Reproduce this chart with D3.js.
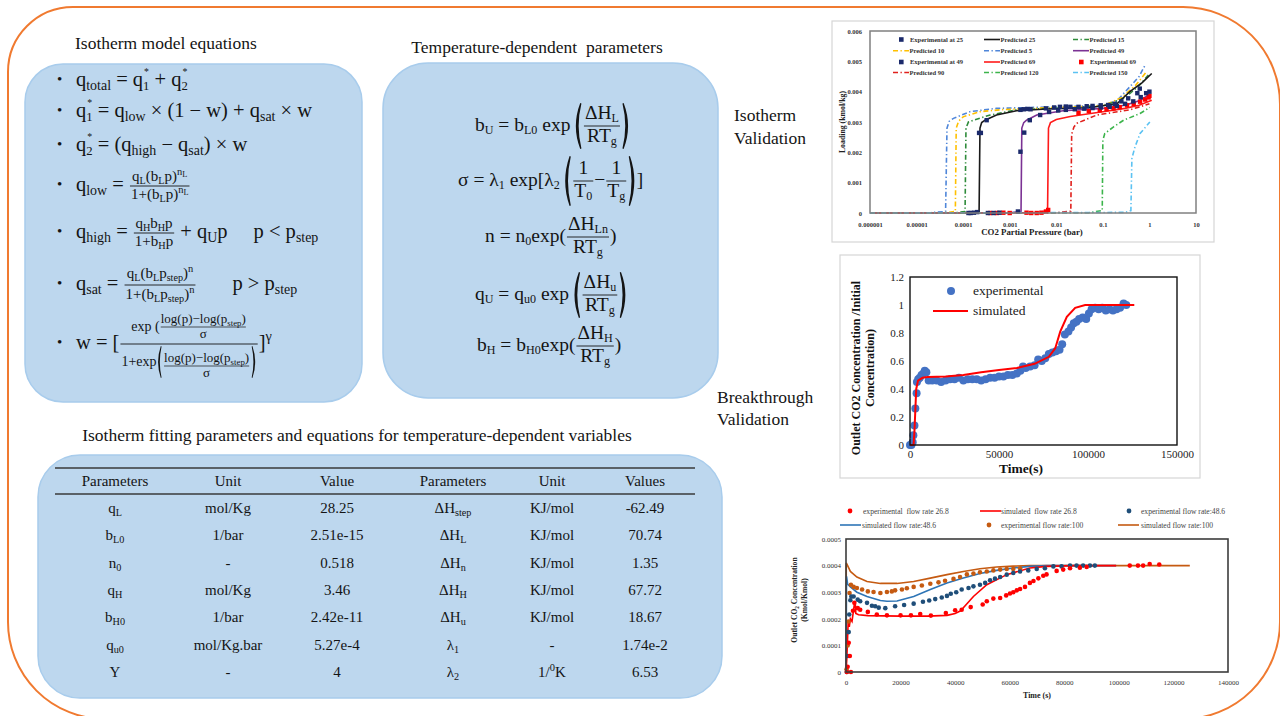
<!DOCTYPE html>
<html><head><meta charset="utf-8">
<script src="https://cdn.jsdelivr.net/npm/d3@7/dist/d3.min.js"></script>
<style>
html,body{margin:0;padding:0;background:#fff;}
svg{display:block;}
svg text{white-space:pre;font-family:'Liberation Serif','Times New Roman',Times,'DejaVu Serif',serif;}
</style></head><body>
<svg id="fig" width="1280" height="716" xmlns="http://www.w3.org/2000/svg"></svg>
<script>
// ---------------- isotherm validation data (pressure in bar, loading in kmol/kg) ----------------
const isoXTicks = [1e-6, 1e-5, 1e-4, 1e-3, 1e-2, 1e-1, 1, 10];
const isoXTickLabels = ["0.000001", "0.00001", "0.0001", "0.001", "0.01", "0.1", "1", "10"];
const isoYTicks = [0, 0.001, 0.002, 0.003, 0.004, 0.005, 0.006];
const isoYTickLabels = ["0", "0.001", "0.002", "0.003", "0.004", "0.005", "0.006"];

const pred5 = [[1e-6,0],[2e-5,0.00001],[4.2e-5,0.00005],[4.5e-5,0.0028],[5e-5,0.00302],[6.2e-5,0.00312],[1.4e-4,0.00334],[5.2e-4,0.00345],[0.01,0.0035],[0.1,0.00355],[0.2,0.0037],[0.38,0.00416],[0.6,0.0045],[0.81,0.00488]];
const pred10 = [[1e-6,0],[4e-5,0.00001],[6.8e-5,0.00005],[7.1e-5,0.0028],[8e-5,0.00303],[1e-4,0.00317],[2.3e-4,0.00334],[7.2e-4,0.00341],[0.01,0.00348],[0.1,0.00353],[0.25,0.0038],[0.5,0.0042],[0.87,0.00466]];
const pred15 = [[1e-6,0],[7e-5,0.00001],[1.1e-4,0.00005],[1.15e-4,0.0028],[1.3e-4,0.003],[1.66e-4,0.00306],[3.8e-4,0.00323],[1.4e-3,0.0034],[0.01,0.00346],[0.1,0.00352],[0.3,0.0038],[0.6,0.0042],[0.95,0.00455]];
const pred25 = [[1e-6,0],[1.5e-4,0.00001],[2.2e-4,0.00005],[2.3e-4,0.0028],[2.5e-4,0.00298],[2.95e-4,0.00306],[5.2e-4,0.00323],[1.4e-3,0.00337],[6.3e-3,0.00343],[0.05,0.00347],[0.2,0.0036],[0.38,0.004],[0.7,0.0043],[1.12,0.0046]];
const pred49 = [[1e-6,0],[1e-3,0.00001],[1.75e-3,0.00005],[1.82e-3,0.0028],[2e-3,0.00298],[2.3e-3,0.00306],[3.8e-3,0.00323],[0.014,0.00337],[0.1,0.00345],[0.3,0.00355],[0.6,0.0037],[1.0,0.0039]];
const pred69 = [[1e-6,0],[4e-3,0.00001],[6.5e-3,0.00008],[6.8e-3,0.0028],[7.5e-3,0.00298],[0.01,0.00308],[0.02,0.00318],[0.05,0.00327],[0.1,0.00334],[0.3,0.00345],[0.6,0.00355],[1.12,0.00372]];
const pred90 = [[1e-6,0],[0.01,0.00001],[0.0205,0.00006],[0.0214,0.0026],[0.024,0.00284],[0.028,0.00296],[0.04,0.00306],[0.074,0.00323],[0.38,0.0034],[1.0,0.0036]];
const pred120 = [[1e-6,0],[0.05,0.00001],[0.097,0.00008],[0.1,0.0024],[0.11,0.00262],[0.17,0.00284],[0.28,0.00306],[0.63,0.00328],[1.02,0.00348]];
const pred150 = [[1e-6,0],[0.3,0.00002],[0.4,0.00008],[0.42,0.0018],[0.49,0.00218],[0.63,0.00262],[1.02,0.003]];
const exp25 = [[1.3e-4,0],[1.45e-4,0],[1.7e-4,0.00001],[2e-4,0.00003],[2.2e-4,0.00264],[2.4e-4,0.00264],[3.2e-4,0.00306],[1.7e-3,0.0034],[2.0e-3,0.00342],[2.4e-3,0.00343],[2.8e-3,0.00342],[6e-3,0.00345],[0.009,0.00348],[0.012,0.0035],[0.016,0.00351],[0.02,0.0035],[0.03,0.0035],[0.045,0.00352],[0.06,0.00353],[0.09,0.00355],[0.13,0.00356],[0.18,0.0036],[0.25,0.00368],[0.35,0.00378],[0.55,0.00395],[0.62,0.0041]];
const exp49 = [[3.4e-4,0],[4.5e-4,0],[6e-4,0.00001],[1.5e-3,0.00005],[1.7e-3,0.00202],[2.05e-3,0.00265],[2.7e-3,0.00306],[4.5e-3,0.00323],[7e-3,0.00333],[0.011,0.00338],[0.016,0.0034],[0.025,0.00342],[0.04,0.00344],[0.06,0.00346],[0.09,0.00348],[0.14,0.0035],[0.2,0.00353],[0.3,0.0036],[0.45,0.00368],[0.65,0.00382],[0.85,0.00395],[1.0,0.004]];
const exp69 = [[3.8e-4,0],[5.3e-4,0],[7.3e-4,0.00001],[1.0e-3,0],[2.3e-3,0.00001],[2.9e-3,0],[3.8e-3,0],[4.8e-3,0.00001],[6e-3,0.00005],[6.7e-3,0.0001],[0.03,0.0033],[0.05,0.00336],[0.086,0.00339],[0.12,0.00342],[0.17,0.00345],[0.23,0.00349],[0.33,0.00355],[0.46,0.0036],[0.63,0.00367],[0.81,0.00374],[0.96,0.00381],[1.0,0.00386]];

// ---------------- breakthrough validation data ----------------
const btXTicks = [0, 50000, 100000, 150000];
const btYTicks = [0, 0.2, 0.4, 0.6, 0.8, 1, 1.2];
const btExperimental = [[0,0],[800,0],[1500,0.02],[1900,0.07],[2500,0.14],[3000,0.26],[3700,0.37],[3900,0.45],[4600,0.47],[5500,0.48],[6500,0.5],[7500,0.51],[8300,0.53],[9200,0.52],[10500,0.46],[12500,0.46],[15000,0.46],[17500,0.45],[20000,0.46],[22500,0.47],[25000,0.47],[27500,0.48],[30000,0.46],[32500,0.47],[35000,0.47],[37500,0.47],[40000,0.46],[42500,0.47],[45000,0.48],[47500,0.48],[50000,0.49],[52500,0.49],[55000,0.5],[57500,0.5],[60000,0.51],[62000,0.53],[63500,0.56],[65000,0.55],[67500,0.56],[70000,0.57],[72000,0.61],[74000,0.6],[76000,0.62],[78000,0.65],[80000,0.66],[82000,0.67],[84000,0.68],[85500,0.72],[87000,0.79],[89000,0.81],[90500,0.84],[92000,0.87],[93500,0.88],[95000,0.9],[97000,0.91],[99000,0.9],[100500,0.94],[102000,0.97],[104000,0.98],[106000,0.97],[108000,0.98],[110000,0.96],[112000,0.97],[114000,0.96],[116000,0.97],[118000,0.98],[120000,1.01],[121500,1.0]];
const btSimulated = [[0,0],[2000,0],[2500,0.1],[3000,0.25],[3500,0.4],[4500,0.46],[7000,0.48],[10000,0.485],[20000,0.49],[30000,0.5],[40000,0.52],[50000,0.535],[60000,0.55],[70000,0.58],[78000,0.63],[81600,0.69],[84400,0.81],[88100,0.915],[92800,0.98],[98400,1.0],[126000,1.0]];

// ---------------- flow-rate comparison data ----------------
const frXTicks = [0, 20000, 40000, 60000, 80000, 100000, 120000, 140000];
const frYTicks = [0, 0.0001, 0.0002, 0.0003, 0.0004, 0.0005];
const frYTickLabels = ["0", "0.0001", "0.0002", "0.0003", "0.0004", "0.0005"];
const exp268 = [[300,0],[600,0.00002],[1000,0.00011],[1400,0.00006],[1800,0],[2560,0.00023],[3050,0.00026],[4300,0.00024],[5200,0.000234],[8000,0.000226],[11300,0.000216],[15000,0.000213],[20000,0.000213],[23800,0.000213],[27200,0.000218],[31100,0.000212],[36600,0.000222],[40000,0.000232],[42400,0.000234],[45700,0.000244],[50100,0.000254],[51600,0.000266],[54000,0.000276],[56500,0.000278],[58700,0.000288],[60100,0.000295],[61300,0.0003],[62600,0.000307],[63800,0.000312],[65600,0.00032],[67400,0.000335],[68700,0.000342],[70500,0.000352],[72300,0.000362],[73500,0.000367],[77200,0.00038],[79600,0.000385],[82100,0.00039],[85700,0.000392],[88200,0.000395],[104000,0.0004],[107000,0.0004],[108900,0.0004],[111300,0.000406],[114800,0.000404]];
const sim268 = [[0,0],[300,0.00005],[800,0.00019],[1200,0.00017],[1600,0.0002],[2200,0.00019],[3000,0.00025],[3400,0.00026],[3600,0.00022],[4600,0.000215],[8000,0.000212],[20000,0.00021],[30000,0.00021],[37000,0.000213],[40000,0.00022],[42000,0.00023],[46700,0.000284],[51600,0.000328],[58900,0.000366],[67400,0.000391],[73500,0.000397],[83300,0.0004],[99000,0.0004]];
const exp486 = [[300,0],[700,0.00006],[1000,0.00015],[1200,0.000216],[1600,0.00027],[1950,0.000284],[2800,0.000284],[4300,0.000272],[5200,0.000266],[7700,0.00026],[9500,0.000249],[10700,0.000247],[12000,0.000242],[14400,0.00024],[18000,0.000247],[21300,0.000252],[24800,0.000257],[28200,0.000264],[30500,0.000269],[32700,0.000274],[35100,0.00028],[37000,0.000286],[38400,0.000294],[40400,0.0003],[42400,0.00031],[44900,0.000316],[46700,0.000322],[49100,0.000328],[51000,0.000335],[52800,0.000345],[54600,0.000351],[56500,0.000357],[58900,0.000366],[61300,0.000372],[63800,0.000378],[66800,0.000382],[69900,0.000387],[72900,0.00039],[76000,0.000397],[79000,0.000397],[82100,0.0004],[84500,0.0004],[86900,0.0004],[89400,0.0004],[91200,0.0004]];
const sim486 = [[0,0],[200,0.00036],[600,0.00033],[1600,0.00032],[4000,0.0003],[7700,0.000284],[12600,0.000269],[15000,0.000266],[18700,0.000267],[24800,0.000284],[30900,0.00031],[37000,0.000335],[43000,0.000353],[49100,0.00037],[55200,0.000382],[61300,0.000391],[67400,0.000397],[73500,0.0004],[99000,0.0004]];
const exp100 = [[200,0.00001],[600,0.0001],[900,0.00019],[1300,0.000297],[1800,0.000328],[2800,0.00032],[4000,0.000316],[5900,0.00031],[8000,0.000303],[10100,0.000301],[12600,0.000297],[15000,0.000301],[16800,0.000303],[18000,0.000307],[20500,0.00031],[22300,0.000315],[24800,0.00032],[27800,0.000325],[30900,0.000332],[33900,0.000337],[36300,0.000343],[39400,0.00035],[41800,0.000357],[44300,0.000367],[46700,0.00037],[49100,0.000375],[51600,0.000378],[54000,0.000382],[56500,0.000385],[58900,0.000387],[61300,0.000387],[63800,0.00039]];
const sim100 = [[0,0],[100,0.00041],[600,0.0004],[1600,0.000378],[4000,0.000357],[7700,0.00034],[12600,0.000333],[18700,0.000333],[24800,0.00034],[30900,0.000353],[37000,0.000366],[43000,0.000378],[49100,0.000388],[55200,0.000395],[61300,0.000398],[67400,0.0004],[126000,0.0004]];

// ---------------- fitted parameter table ----------------
const tableHeader = ["Parameters", "Unit", "Value", "Parameters", "Unit", "Values"];
const paramSymbols = ["q_L", "b_{L0}", "n_0", "q_H", "b_{H0}", "q_{u0}", "Υ"];
const paramUnits = ["mol/Kg", "1/bar", "-", "mol/Kg", "1/bar", "mol/Kg.bar", "-"];
const paramValues = ["28.25", "2.51e-15", "0.518", "3.46", "2.42e-11", "5.27e-4", "4"];
const param2Symbols = ["ΔH_{step}", "ΔH_L", "ΔH_n", "ΔH_H", "ΔH_u", "λ_1", "λ_2"];
const param2Units = ["KJ/mol", "KJ/mol", "KJ/mol", "KJ/mol", "KJ/mol", "-", "1/^0K"];
const param2Values = ["-62.49", "70.74", "1.35", "67.72", "18.67", "1.74e-2", "6.53"];

// =====================================================================
const INK = "#141414";
const svg = d3.select("#fig");

// ---- outer rounded frame ----
(function () {
  const x0 = 8, y0 = 7, x1 = 1280, y1 = 719, rTL = 65, r = 97;
  const d = `M${x0 + rTL},${y0} H${x1 - r} A${r},${r} 0 0 1 ${x1},${y0 + r} V${y1 - r} A${r},${r} 0 0 1 ${x1 - r},${y1} H${x0 + r} A${r},${r} 0 0 1 ${x0},${y1 - r} V${y0 + rTL} A${rTL},${rTL} 0 0 1 ${x0 + rTL},${y0} Z`;
  svg.append("path").attr("d", d).attr("fill", "none").attr("stroke", "#F07A30").attr("stroke-width", 2);
})();

// ---- blue panels ----
const panels = [[25, 64, 337, 338, 38], [383, 63, 335, 335, 45], [38, 455, 684, 243, 42]];
svg.selectAll("rect.panel").data(panels).join("rect").attr("class", "panel")
  .attr("x", d => d[0]).attr("y", d => d[1]).attr("width", d => d[2]).attr("height", d => d[3])
  .attr("rx", d => d[4]).attr("fill", "#BDD7EE").attr("stroke", "#A8CCEC").attr("stroke-width", 1.5);

// ---- headings ----
function label(x, y, s, size, anchor) {
  svg.append("text").attr("x", x).attr("y", y).attr("font-size", size).attr("fill", INK)
    .attr("text-anchor", anchor || "start").text(s);
}
label(75, 49, "Isotherm model equations", 17.5);
label(537, 53, "Temperature-dependent  parameters", 17.5, "middle");
label(357, 441, "Isotherm fitting parameters and equations for temperature-dependent variables", 17.5, "middle");
label(734, 121, "Isotherm", 17.5);
label(734, 144, "Validation", 17.5);
label(717, 403, "Breakthrough", 17.5);
label(717, 425, "Validation", 17.5);

// =====================================================================
// small math-layout helpers: each item draws itself and returns its width
function runs(str) {
  const out = []; let buf = ""; let i = 0;
  const push = (s, k) => { if (s) out.push({ s, k }); };
  while (i < str.length) {
    const c = str[i];
    if (c === "_" || c === "^" || c === "~") {
      push(buf, "n"); buf = "";
      let k = c === "_" ? "sub" : (c === "^" ? "sup" : "supsub");
      i++;
      if (str[i] === "!") { k = "supz"; i++; }
      let s;
      if (str[i] === "{") { const j = str.indexOf("}", i); s = str.slice(i + 1, j); i = j + 1; }
      else { s = str[i]; i++; }
      push(s, k);
    } else { buf += c; i++; }
  }
  push(buf, "n");
  return out;
}
// one <text> per run of symbols; sub/superscripts are positioned tspans
function T(str, size, o) {
  const subK = (o && o.sub) || 0.68, subDy = (o && o.subDy) || 0.2;
  return {
    draw(g, x, y) {
      let cx = x;
      const t = g.append("text").attr("fill", INK).attr("font-size", size);
      const rs = runs(str);
      for (let i = 0; i < rs.length; i++) {
        const r = rs[i];
        if (r.k === "supz") {
          // star sits above the index that follows it
          const a = t.append("tspan").attr("x", cx + 1).attr("y", y - size * 0.52).attr("font-size", size * 0.48).text(r.s);
          let w = a.node().getComputedTextLength();
          const nx = rs[i + 1];
          if (nx && nx.k === "sub") {
            const b = t.append("tspan").attr("x", cx).attr("y", y + size * 0.2).attr("font-size", size * 0.62).text(nx.s);
            w = Math.max(w, b.node().getComputedTextLength());
            i++;
          }
          cx += w;
          continue;
        }
        let fs = size, dy = 0;
        if (r.k === "sub") { fs = size * subK; dy = size * subDy; }
        else if (r.k === "sup") { fs = size * 0.7; dy = -size * 0.4; }
        else if (r.k === "supsub") { fs = size * 0.55; dy = -size * 0.25; }
        const s = t.append("tspan").attr("x", cx).attr("y", y + dy).attr("font-size", fs).text(r.s);
        cx += s.node().getComputedTextLength();
      }
      return cx - x;
    }
  };
}
function Row(items) {
  return { draw(g, x, y) { let cx = x; for (const it of items) cx += it.draw(g, cx, y); return cx - x; } };
}
function Sp(w) { return { draw() { return w; } }; }
function F(num, den, o) {
  return {
    draw(g, x, y) {
      const gn = g.append("g"), gd = g.append("g");
      const wn = num.draw(gn, 0, 0), wd = den.draw(gd, 0, 0);
      const w = Math.max(wn, wd) + 2 * o.pad;
      const ay = y - o.axis;
      gn.attr("transform", `translate(${x + (w - wn) / 2},${ay - o.gapN})`);
      gd.attr("transform", `translate(${x + (w - wd) / 2},${ay + o.gapD})`);
      g.append("line").attr("x1", x + 1).attr("x2", x + w - 1).attr("y1", ay).attr("y2", ay)
        .attr("stroke", INK).attr("stroke-width", o.lw || 0.9);
      return w;
    }
  };
}
function paren(g, x, cy, W, H, right) {
  const top = cy - H / 2, bot = cy + H / 2;
  const d = !right
    ? `M${x + W * 0.85},${top} Q${x - W * 0.25},${cy} ${x + W * 0.85},${bot} L${x + W},${bot - 0.6} Q${x + W * 0.3},${cy} ${x + W},${top + 0.6} Z`
    : `M${x + W * 0.15},${top} Q${x + W * 1.25},${cy} ${x + W * 0.15},${bot} L${x},${bot - 0.6} Q${x + W * 0.7},${cy} ${x},${top + 0.6} Z`;
  g.append("path").attr("d", d).attr("fill", INK);
}
function P(inner, h, o) {
  return {
    draw(g, x, y) {
      const cy = y - o.axis, pw = o.pw;
      paren(g, x, cy, pw, h, false);
      const w = inner.draw(g, x + pw + 1.5, y);
      paren(g, x + pw + 3 + w, cy, pw, h, true);
      return 2 * pw + 3 + w;
    }
  };
}

// ---- isotherm model equations (left panel) ----
const eqL = svg.append("g");
const ES = 20.5;
const fL = { axis: 5, gapN: 5, gapD: 13, pad: 2 };
const leftEqs = [
  [86, T("q_{total} = q^!{*}_1 + q^!{*}_2", ES)],
  [117, T("q^!{*}_1 = q_{low} × (1 − w) + q_{sat} × w", ES)],
  [151, T("q^!{*}_2 = (q_{high} − q_{sat}) × w", ES)],
  [191, Row([T("q_{low} = ", ES), F(T("q_L(b_Lp)^n~L", 15), T("1+(b_Lp)^n~L", 15), fL)])],
  [238, Row([T("q_{high} = ", ES), F(T("q_Hb_Hp", 15), T("1+b_Hp", 15), fL), T(" + q_Up", ES), Sp(26), T("p < p_{step}", ES)])],
  [290, Row([T("q_{sat} = ", ES), F(T("q_L(b_Lp_{step})^n", 15), T("1+(b_Lp_{step})^n", 15), { axis: 5, gapN: 7, gapD: 14, pad: 2 }), Sp(36), T("p > p_{step}", ES)])],
  [349, Row([T("w = [", ES),
    F(Row([T("exp (", 14), F(T("log(p)−log(p_{step})", 13), T("σ", 13), { axis: 4, gapN: 4, gapD: 11, pad: 1, lw: 0.7 })]),
      Row([T("1+exp", 14), P(F(T("log(p)−log(p_{step})", 13), T("σ", 13), { axis: 0, gapN: 4, gapD: 11, pad: 1, lw: 0.7 }), 32, { axis: 4, pw: 5 })]),
      { axis: 5, gapN: 13, gapD: 22, pad: 2 }),
    T("]^γ", ES)])]
];
leftEqs.forEach(([y, it]) => {
  eqL.append("text").attr("x", 57).attr("y", y - 2).attr("font-size", 15).attr("fill", INK).text("•");
  it.draw(eqL, 76, y);
});

// ---- temperature-dependent parameter equations (middle panel) ----
const eqM = svg.append("g");
const MS = 19.5;
const sm = { sub: 0.62, subDy: 0.17 };
const fM = { axis: 5, gapN: 7, gapD: 16, pad: 2 };
const midEqs = [
  [475, 131, Row([T("b_U = b_{L0} exp", MS, sm), Sp(3), P(F(T("ΔH_L", MS, sm), T("RT_g", MS, sm), fM), 46, { axis: 5, pw: 8 })])],
  [458, 186, Row([T("σ = λ_1 exp[λ_2", MS, sm), Sp(3), P(Row([F(T("1", MS, sm), T("T_0", MS, sm), fM), T("−", MS), F(T("1", MS, sm), T("T_g", MS, sm), fM)]), 50, { axis: 5, pw: 8 }), T("]", MS)])],
  [485, 242, Row([T("n = n_0exp(", MS, sm), F(T("ΔH_{Ln}", MS, sm), T("RT_g", MS, sm), fM), T(")", MS)])],
  [475, 300, Row([T("q_U = q_{u0} exp", MS, sm), Sp(3), P(F(T("ΔH_u", MS, sm), T("RT_g", MS, sm), fM), 46, { axis: 5, pw: 8 })])],
  [477, 351, Row([T("b_H = b_{H0}exp(", MS, sm), F(T("ΔH_H", MS, sm), T("RT_g", MS, sm), fM), T(")", MS)])]
];
midEqs.forEach(([x, y, it]) => it.draw(eqM, x, y));

// ---- parameter table ----
const tbl = svg.append("g");
const colX = [115, 228, 337, 453, 552, 645];
const rowY = [513, 540, 568, 595, 622, 650, 677];
tbl.append("line").attr("x1", 55).attr("x2", 695).attr("y1", 468).attr("y2", 468).attr("stroke", "#3a3a3a").attr("stroke-width", 1.6);
tbl.append("line").attr("x1", 55).attr("x2", 695).attr("y1", 494).attr("y2", 494).attr("stroke", "#3a3a3a").attr("stroke-width", 1.6);
function centered(item, cx, y) {
  const g = tbl.append("g");
  const w = item.draw(g, 0, y);
  g.attr("transform", `translate(${cx - w / 2},0)`);
}
const TS = 15;
tableHeader.forEach((h, i) => centered(T(h, TS), colX[i], 486));
const cols = [paramSymbols, paramUnits, paramValues, param2Symbols, param2Units, param2Values];
cols.forEach((col, ci) => col.forEach((s, ri) => centered(T(s, TS), colX[ci], rowY[ri])));

// =====================================================================
// Isotherm validation chart
(function () {
  const g = svg.append("g");
  g.append("rect").attr("x", 832).attr("y", 21).attr("width", 382).attr("height", 221)
    .attr("fill", "#fff").attr("stroke", "#d6d6d6").attr("stroke-width", 1.2);
  const x = d3.scaleLog().domain([1e-6, 10]).range([870, 1196]);
  const y = d3.scaleLinear().domain([0, 0.006]).range([213, 31]);
  const ax = g.append("g").attr("transform", "translate(0,213)")
    .call(d3.axisBottom(x).tickValues(isoXTicks).tickFormat((d, i) => isoXTickLabels[i]).tickSize(0).tickPadding(9));
  const ay = g.append("g").attr("transform", "translate(870,0)")
    .call(d3.axisLeft(y).tickValues(isoYTicks).tickFormat((d, i) => isoYTickLabels[i]).tickSize(0).tickPadding(8));
  [ax, ay].forEach(a => {
    a.attr("font-family", null);
    a.select(".domain").remove();
    a.selectAll("text").attr("font-size", 6.5).attr("font-weight", "bold").attr("fill", "#333");
  });
  g.append("text").attr("x", 1032).attr("y", 235).attr("text-anchor", "middle").attr("font-size", 8.8)
    .attr("font-weight", "bold").attr("fill", "#222").text("CO2 Partial Pressure (bar)");
  g.append("text").attr("transform", "translate(845,122) rotate(-90)").attr("text-anchor", "middle")
    .attr("font-size", 7.8).attr("font-weight", "bold").attr("fill", "#222").text("Loading (kmol/kg)");

  const DD = "5,2.5,1.3,2.5";
  const series = [
    { d: pred5, c: "#4F86D9", dash: DD },
    { d: pred10, c: "#FFC000", dash: DD },
    { d: pred15, c: "#2E8B3A", dash: DD },
    { d: pred25, c: "#1a1a1a", dash: null },
    { d: pred49, c: "#7B3294", dash: null },
    { d: pred69, c: "#FF1A1A", dash: null },
    { d: pred90, c: "#E0201C", dash: DD },
    { d: pred120, c: "#3CB44B", dash: DD },
    { d: pred150, c: "#5BC2F2", dash: DD }
  ];
  const line = d3.line().x(d => x(d[0])).y(d => y(d[1]));
  series.forEach(s => g.append("path").attr("d", line(s.d)).attr("fill", "none").attr("stroke", s.c)
    .attr("stroke-width", 1.6).attr("stroke-dasharray", s.dash));
  const sq = 4.4;
  [[exp69, "#FF0000"], [exp49, "#1B2A6B"], [exp25, "#1B2A6B"]].forEach(([pts, c]) =>
    g.selectAll(null).data(pts).join("rect").attr("x", d => x(d[0]) - sq / 2).attr("y", d => y(d[1]) - sq / 2)
      .attr("width", sq).attr("height", sq).attr("fill", c));
  g.append("rect").attr("x", 870).attr("y", 31).attr("width", 326).attr("height", 182)
    .attr("fill", "none").attr("stroke", "#808080").attr("stroke-width", 1.5);

  // legend: 3 columns x 4 rows
  const legend = [
    ["sq", "#1B2A6B", null, "Experimental at 25"], ["ln", "#1a1a1a", null, "Predicted 25"], ["ln", "#2E8B3A", DD, "Predicted 15"],
    ["ln", "#FFC000", DD, "Predicted 10"], ["ln", "#4F86D9", DD, "Predicted 5"], ["ln", "#7B3294", null, "Predicted 49"],
    ["sq", "#1B2A6B", null, "Experimental at 49"], ["ln", "#FF1A1A", null, "Predicted 69"], ["sq", "#FF0000", null, "Experimental 69"],
    ["ln", "#E0201C", DD, "Predicted 90"], ["ln", "#3CB44B", DD, "Predicted 120"], ["ln", "#5BC2F2", DD, "Predicted 150"]
  ];
  const colL = [893, 984, 1073], rows = [39.5, 50.7, 62, 72.5];
  legend.forEach((e, i) => {
    const cx = colL[i % 3], cy = rows[Math.floor(i / 3)];
    if (e[0] === "sq") {
      g.append("rect").attr("x", cx + 6).attr("y", cy - 2.3).attr("width", 4.6).attr("height", 4.6).attr("fill", e[1]);
      g.append("text").attr("x", cx + 17).attr("y", cy + 2.2).attr("font-size", 6.5).attr("font-weight", "bold").attr("fill", "#333").text(e[3]);
    } else {
      g.append("line").attr("x1", cx).attr("x2", cx + 16).attr("y1", cy).attr("y2", cy).attr("stroke", e[1])
        .attr("stroke-width", 1.6).attr("stroke-dasharray", e[2]);
      g.append("text").attr("x", cx + 16.5).attr("y", cy + 2.2).attr("font-size", 6.5).attr("font-weight", "bold").attr("fill", "#333").text(e[3]);
    }
  });
})();

// =====================================================================
// Breakthrough validation chart
(function () {
  const g = svg.append("g");
  g.append("rect").attr("x", 840).attr("y", 255).attr("width", 360).attr("height", 223)
    .attr("fill", "#fff").attr("stroke", "#d6d6d6").attr("stroke-width", 1.2);
  const x = d3.scaleLinear().domain([0, 150000]).range([910, 1177]);
  const y = d3.scaleLinear().domain([0, 1.2]).range([445, 277]);
  const ax = g.append("g").attr("transform", "translate(0,445)")
    .call(d3.axisBottom(x).tickValues(btXTicks).tickFormat(d => String(d)).tickSize(0).tickPadding(5));
  const ay = g.append("g").attr("transform", "translate(910,0)")
    .call(d3.axisLeft(y).tickValues(btYTicks).tickFormat(d => String(d)).tickSize(0).tickPadding(6));
  [ax, ay].forEach(a => {
    a.attr("font-family", null);
    a.select(".domain").remove();
    a.selectAll("text").attr("font-size", 11).attr("fill", "#222");
  });
  g.append("text").attr("x", 1021).attr("y", 473).attr("text-anchor", "middle").attr("font-size", 13.5)
    .attr("font-weight", "bold").attr("fill", "#111").text("Time(s)");
  g.append("text").attr("transform", "translate(860,368) rotate(-90)").attr("text-anchor", "middle")
    .attr("font-size", 12).attr("font-weight", "bold").attr("fill", "#111").text("Outlet CO2 Concentration /Initial");
  g.append("text").attr("transform", "translate(874,368) rotate(-90)").attr("text-anchor", "middle")
    .attr("font-size", 12).attr("font-weight", "bold").attr("fill", "#111").text("Concentration)");

  const line = d3.line().x(d => x(d[0])).y(d => y(d[1]));
  g.selectAll(null).data(btExperimental).join("circle").attr("cx", d => x(d[0])).attr("cy", d => y(d[1]))
    .attr("r", 4).attr("fill", "#4472C4");
  g.append("path").attr("d", line(btSimulated)).attr("fill", "none").attr("stroke", "#FF0000").attr("stroke-width", 2);
  g.append("rect").attr("x", 910).attr("y", 277).attr("width", 267).attr("height", 168)
    .attr("fill", "none").attr("stroke", "#111").attr("stroke-width", 1.4);

  g.append("circle").attr("cx", 951).attr("cy", 291).attr("r", 4).attr("fill", "#4472C4");
  g.append("text").attr("x", 973).attr("y", 295).attr("font-size", 13.5).attr("fill", "#222").text("experimental");
  g.append("line").attr("x1", 933).attr("x2", 968).attr("y1", 311).attr("y2", 311).attr("stroke", "#FF0000").attr("stroke-width", 2);
  g.append("text").attr("x", 973).attr("y", 315).attr("font-size", 13.5).attr("fill", "#222").text("simulated");
})();

// =====================================================================
// Flow-rate breakthrough chart
(function () {
  const g = svg.append("g");
  const x = d3.scaleLinear().domain([0, 140000]).range([846, 1228]);
  const y = d3.scaleLinear().domain([0, 0.0005]).range([672, 539]);
  const ax = g.append("g").attr("transform", "translate(0,672)")
    .call(d3.axisBottom(x).tickValues(frXTicks).tickFormat(d => String(d)).tickSize(0).tickPadding(8));
  const ay = g.append("g").attr("transform", "translate(846,0)")
    .call(d3.axisLeft(y).tickValues(frYTicks).tickFormat((d, i) => frYTickLabels[i]).tickSize(0).tickPadding(5));
  [ax, ay].forEach(a => {
    a.attr("font-family", null);
    a.select(".domain").remove();
    a.selectAll("text").attr("font-size", 7).attr("fill", "#333");
  });
  g.append("text").attr("x", 1037).attr("y", 698).attr("text-anchor", "middle").attr("font-size", 8)
    .attr("font-weight", "bold").attr("fill", "#222").text("Time (s)");
  const yt1 = g.append("text").attr("transform", "translate(797,600) rotate(-90)").attr("text-anchor", "middle")
    .attr("font-size", 7.6).attr("font-weight", "bold").attr("fill", "#222");
  yt1.append("tspan").text("Outlet CO");
  yt1.append("tspan").attr("font-size", 5.2).attr("dy", 1.5).text("2");
  yt1.append("tspan").attr("dy", -1.5).text(" Concentration");
  g.append("text").attr("transform", "translate(807,600) rotate(-90)").attr("text-anchor", "middle")
    .attr("font-size", 7.6).attr("font-weight", "bold").attr("fill", "#222").text("(Kmol/Kmol)");

  const RED = "#FF0000", BLUE = "#2E75B6", NAVY = "#1F4E79", ORANGE = "#C55A11";
  const line = d3.line().x(d => x(d[0])).y(d => y(d[1]));
  [[sim100, ORANGE], [sim486, BLUE], [sim268, RED]].forEach(([d, c]) =>
    g.append("path").attr("d", line(d)).attr("fill", "none").attr("stroke", c).attr("stroke-width", 1.6));
  [[exp100, ORANGE], [exp486, NAVY], [exp268, RED]].forEach(([d, c]) =>
    g.selectAll(null).data(d).join("circle").attr("cx", p => x(p[0])).attr("cy", p => y(p[1])).attr("r", 2.3).attr("fill", c));
  g.append("rect").attr("x", 846).attr("y", 539).attr("width", 382).attr("height", 133)
    .attr("fill", "none").attr("stroke", "#3c3c3c").attr("stroke-width", 1.6);

  const leg = [
    ["dot", RED, 850, 511, 863, "experimental  flow rate 26.8"],
    ["ln", RED, 980, 511, 1001, "simulated  flow rate 26.8"],
    ["dot", NAVY, 1129, 511, 1141, "experimental flow rate:48.6"],
    ["ln", BLUE, 840, 525, 862, "simulated flow rate:48.6"],
    ["dot", ORANGE, 989, 525, 1001, "experimental flow rate:100"],
    ["ln", ORANGE, 1118, 525, 1141, "simulated flow rate:100"]
  ];
  leg.forEach(([k, c, mx, my, tx, s]) => {
    if (k === "dot") g.append("circle").attr("cx", mx).attr("cy", my).attr("r", 2.4).attr("fill", c);
    else g.append("line").attr("x1", mx).attr("x2", mx + 21).attr("y1", my).attr("y2", my).attr("stroke", c).attr("stroke-width", 1.6);
    g.append("text").attr("x", tx).attr("y", my + 2.5).attr("font-size", 7.6).attr("fill", "#444").text(s);
  });
})();
</script>
</body></html>
